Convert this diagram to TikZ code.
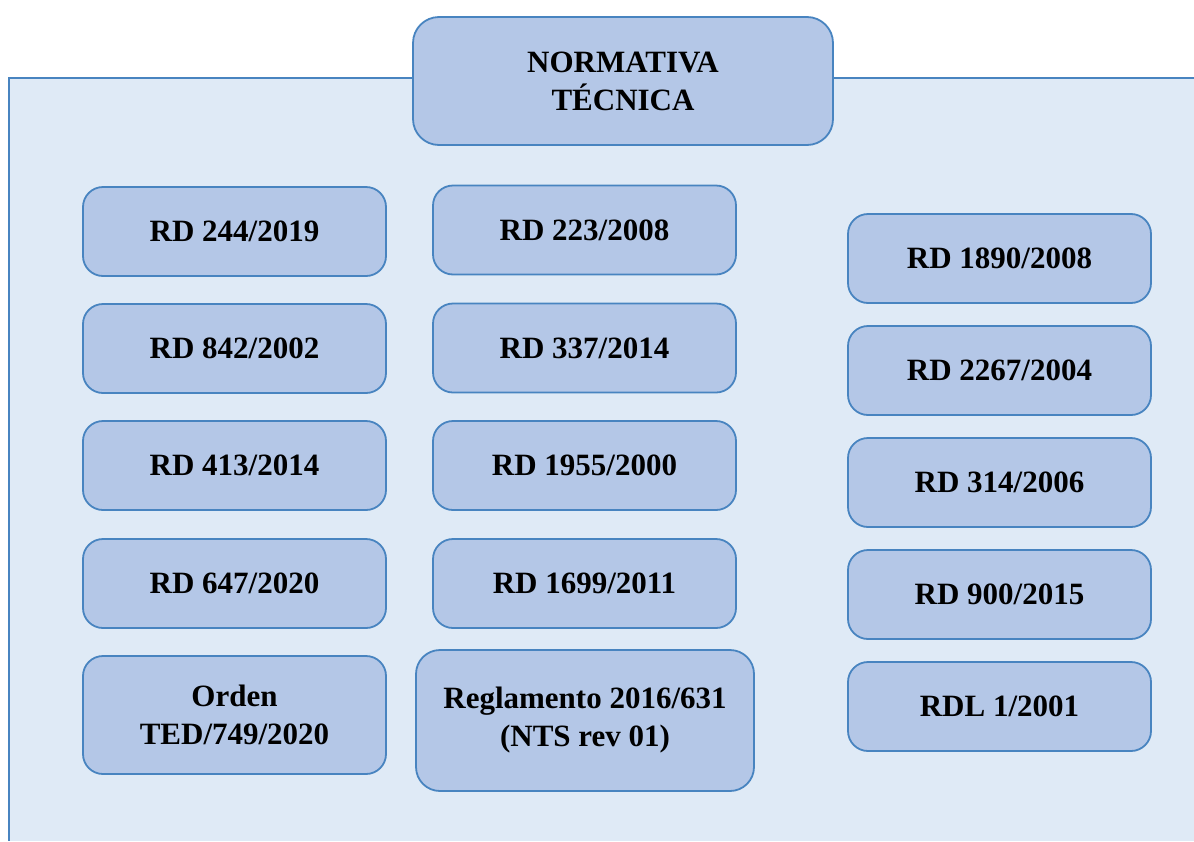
\documentclass[tikz,border=0pt]{standalone}
\usepackage{fontspec}
\setmainfont{Liberation Serif}
\definecolor{panelfill}{RGB}{223,234,246}
\definecolor{boxfill}{RGB}{180,199,231}
\definecolor{edge}{RGB}{72,132,192}
\tikzset{
  normbox/.style={draw=edge, line width=1.8pt, fill=boxfill, rounded corners=20pt,
    minimum width=303pt, minimum height=89pt, inner sep=0pt, align=center,
    font=\fontsize{31}{38}\selectfont\bfseries, text=black},
  panel/.style={fill=panelfill},
  panelline/.style={draw=edge, line width=2.4pt}
}
\begin{document}
\begin{tikzpicture}[x=1pt,y=-1pt]
\useasboundingbox (0,0) rectangle (1194,841);
\fill[panel] (9,78) rectangle (1194,841);
\coordinate (pTR) at (1194,78);
\coordinate (pTL) at (9,78);
\coordinate (pBL) at (9,841);
\draw[panelline] (pTR) -- (pTL) -- (pBL);
% title
\node[normbox, minimum width=420pt, minimum height=128pt, rounded corners=26pt] (title) at (623,81) {NORMATIVA\\TÉCNICA};
% column 1
\node[normbox] (a1) at (234.5,231.5) {RD 244/2019};
\node[normbox] (a2) at (234.5,348.5) {RD 842/2002};
\node[normbox] (a3) at (234.5,465.5) {RD 413/2014};
\node[normbox] (a4) at (234.5,583.5) {RD 647/2020};
\node[normbox, minimum height=118pt] (a5) at (234.5,715) {Orden\\TED/749/2020};
% column 2
\node[normbox] (b1) at (584.5,230) {RD 223/2008};
\node[normbox] (b2) at (584.5,348) {RD 337/2014};
\node[normbox] (b3) at (584.5,465.5) {RD 1955/2000};
\node[normbox] (b4) at (584.5,583.5) {RD 1699/2011};
\node[normbox, minimum width=338pt, minimum height=141pt, rounded corners=24pt] (b5) at (585,720.5) {Reglamento 2016/631\\(NTS rev 01)};
% column 3
\node[normbox] (c1) at (999.5,258.5) {RD 1890/2008};
\node[normbox] (c2) at (999.5,370.5) {RD 2267/2004};
\node[normbox] (c3) at (999.5,482.5) {RD 314/2006};
\node[normbox] (c4) at (999.5,594.5) {RD 900/2015};
\node[normbox] (c5) at (999.5,706.5) {RDL 1/2001};
\end{tikzpicture}
\end{document}
